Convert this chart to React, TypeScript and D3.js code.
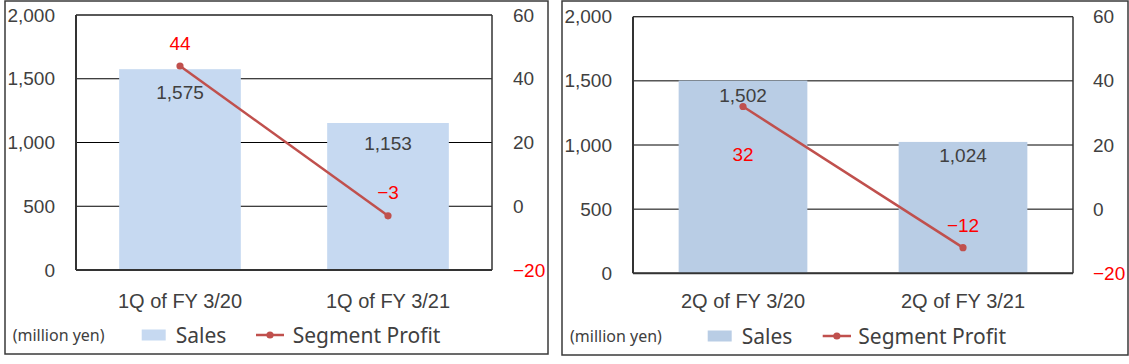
import React from "react";
import * as d3 from "d3";

const categories1 = ["1Q of FY 3/20", "1Q of FY 3/21"];
const sales1 = [1575, 1153];
const profit1 = [44, -3];
const categories2 = ["2Q of FY 3/20", "2Q of FY 3/21"];
const sales2 = [1502, 1024];
const profit2 = [32, -12];
const leftTicks = [0, 500, 1000, 1500, 2000];
const rightTicks = [-20, 0, 20, 40, 60];
const unitLabel = "(million yen)";
const seriesNames = ["Sales", "Segment Profit"];

const NUM_FONT = "'Liberation Sans', Arial, sans-serif";
const LEG_FONT = "'Noto Sans', sans-serif";
const TXT = "#404040";
const LINE = "#C0504D";
const RED = "#FF0000";

const fmt = d3.format(",");
const fmtSigned = (v: number) => (v < 0 ? "\u2212" + fmt(-v) : fmt(v));

type PanelProps = {
  categories: string[];
  sales: number[];
  profit: number[];
  box: { x: number; y: number; w: number; h: number };
  plot: { l: number; t: number; r: number; b: number };
  barColor: string;
  salesDy: number[];
  profitDy: number[];
  rightGap: number;
  legend: { mx: number; sw: number; sx: number; l1: number; l2: number; px: number; y: number };
};

function Panel(p: PanelProps) {
  const { plot } = p;
  const x = d3.scaleBand<string>().domain(p.categories).range([plot.l, plot.r]).padding(0);
  const bw = x.bandwidth() * 0.585;
  const yL = d3.scaleLinear().domain([0, 2000]).range([plot.b, plot.t]);
  const yR = d3.scaleLinear().domain([-20, 60]).range([plot.b, plot.t]);
  const cx = (c: string) => (x(c) as number) + x.bandwidth() / 2;
  const line = d3
    .line<number>()
    .x((_, i) => cx(p.categories[i]))
    .y((d) => yR(d));
  return (
    <g>
      <rect x={p.box.x} y={p.box.y} width={p.box.w} height={p.box.h} fill="#fff" stroke="#3a3a3a" strokeWidth={1.5} />
      {leftTicks.map((t) => (
        <line key={t} x1={plot.l} x2={plot.r} y1={yL(t)} y2={yL(t)} stroke="#000" strokeWidth={1} />
      ))}
      {p.categories.map((c, i) => (
        <rect key={c} x={cx(c) - bw / 2} y={yL(p.sales[i])} width={bw} height={plot.b - yL(p.sales[i])} fill={p.barColor} />
      ))}
      <line x1={plot.l} x2={plot.l} y1={plot.t} y2={plot.b} stroke="#333" strokeWidth={2} />
      <line x1={plot.r} x2={plot.r} y1={plot.t} y2={plot.b} stroke="#333" strokeWidth={1.5} />
      <line x1={plot.l} x2={plot.r} y1={plot.b} y2={plot.b} stroke="#333" strokeWidth={2} />
      <line x1={plot.l} x2={plot.r} y1={plot.t} y2={plot.t} stroke="#333" strokeWidth={1} />
      <path d={line(p.profit) || ""} fill="none" stroke={LINE} strokeWidth={2.5} />
      {p.profit.map((v, i) => (
        <circle key={i} cx={cx(p.categories[i])} cy={yR(v)} r={3.6} fill={LINE} />
      ))}
      {leftTicks.map((t) => (
        <text key={t} x={plot.l - 21} y={yL(t)} textAnchor="end" dominantBaseline="central" fontFamily={NUM_FONT} fontSize={19} fill={TXT}>
          {fmt(t)}
        </text>
      ))}
      {rightTicks.map((t) => (
        <text key={t} x={plot.r + p.rightGap} y={yR(t)} textAnchor="start" dominantBaseline="central" fontFamily={NUM_FONT} fontSize={19} fill={t < 0 ? RED : TXT}>
          {fmtSigned(t)}
        </text>
      ))}
      {p.categories.map((c, i) => (
        <text key={c} x={cx(c)} y={yL(p.sales[i]) + p.salesDy[i]} textAnchor="middle" dominantBaseline="central" fontFamily={NUM_FONT} fontSize={19} fill={TXT}>
          {fmt(p.sales[i])}
        </text>
      ))}
      {p.categories.map((c, i) => (
        <text key={c} x={cx(c)} y={yR(p.profit[i]) + p.profitDy[i]} textAnchor="middle" dominantBaseline="central" fontFamily={NUM_FONT} fontSize={19} fill={RED}>
          {fmtSigned(p.profit[i])}
        </text>
      ))}
      {p.categories.map((c) => (
        <text key={c} x={cx(c)} y={301} textAnchor="middle" dominantBaseline="central" fontFamily={NUM_FONT} fontSize={20} fill={TXT}>
          {c}
        </text>
      ))}
      <text x={p.legend.mx} y={p.legend.y} dominantBaseline="central" fontFamily={LEG_FONT} fontSize={16} fill={TXT}>
        {unitLabel}
      </text>
      <rect x={p.legend.sw} y={p.legend.y - 5.5} width={24} height={11} fill={p.barColor} />
      <text x={p.legend.sx} y={p.legend.y} dominantBaseline="central" fontFamily={LEG_FONT} fontSize={21} fill={TXT}>
        {seriesNames[0]}
      </text>
      <line x1={p.legend.l1} x2={p.legend.l2} y1={p.legend.y} y2={p.legend.y} stroke={LINE} strokeWidth={2.5} />
      <circle cx={(p.legend.l1 + p.legend.l2) / 2} cy={p.legend.y} r={3.6} fill={LINE} />
      <text x={p.legend.px} y={p.legend.y} dominantBaseline="central" fontFamily={LEG_FONT} fontSize={21} fill={TXT}>
        {seriesNames[1]}
      </text>
    </g>
  );
}

export default function App() {
  return (
    <svg width={1129} height={364} style={{ position: "absolute", left: 0, top: 0, background: "#fff" }}>
      <Panel
        categories={categories1}
        sales={sales1}
        profit={profit1}
        box={{ x: 5, y: 1, w: 543, h: 353 }}
        plot={{ l: 76, t: 15, r: 492, b: 270 }}
        barColor="#C6D9F1"
        salesDy={[23, 21]}
        profitDy={[-23, -23]}
        rightGap={21}
        legend={{ mx: 12.7, sw: 141.7, sx: 175.7, l1: 256, l2: 284, px: 292.7, y: 335 }}
      />
      <Panel
        categories={categories2}
        sales={sales2}
        profit={profit2}
        box={{ x: 562, y: 1, w: 566, h: 354 }}
        plot={{ l: 633, t: 16.7, r: 1073, b: 273.3 }}
        barColor="#B9CDE5"
        salesDy={[14.5, 14]}
        profitDy={[47.6, -22.6]}
        rightGap={20}
        legend={{ mx: 570, sw: 707.7, sx: 741.7, l1: 822.7, l2: 851, px: 858.3, y: 336 }}
      />
    </svg>
  );
}
